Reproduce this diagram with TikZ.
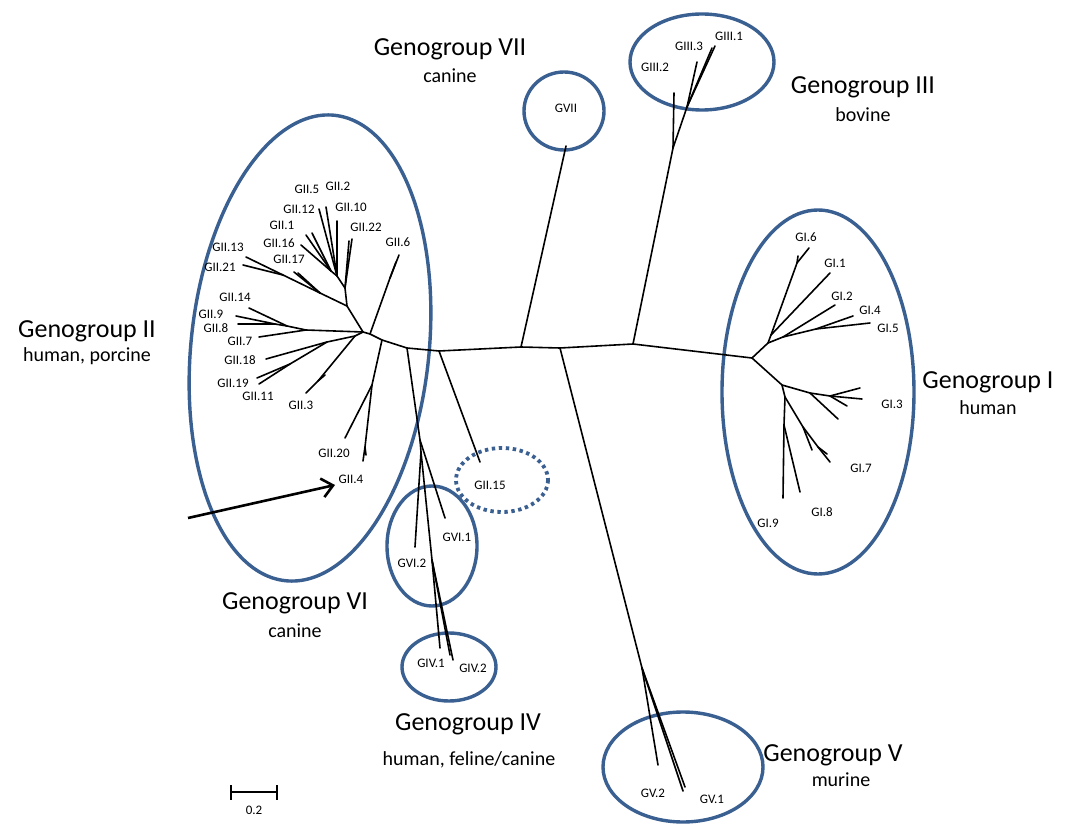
\documentclass[tikz,border=0pt]{standalone}
\usepackage{fontspec}
\setmainfont{Carlito}
\usetikzlibrary{arrows.meta}
\definecolor{gblue}{RGB}{58,95,145}
\begin{document}
\begin{tikzpicture}[x=1pt,y=-1pt,
  br/.style={line width=1.6pt, line join=round, line cap=round},
  grp/.style={draw=gblue, line width=3.4pt},
  dotgrp/.style={draw=gblue, line width=3.8pt, dash pattern=on 3.4pt off 3.6pt},
  leaf/.style={font=\fontsize{13}{15}\selectfont, inner sep=0pt},
  ttl/.style={font=\fontsize{26}{30}\selectfont, inner sep=0pt, anchor=base},
  sbt/.style={font=\fontsize{20}{24}\selectfont, inner sep=0pt, anchor=base},
  bigarrow/.style={line width=2.6pt, -{Straight Barb[length=11pt,width=19pt,line width=2.6pt]}}]
\useasboundingbox (0,0) rectangle (1069,826);
\fill[white] (0,0) rectangle (1069,826);

% ---------- group ellipses ----------
\draw[grp, rotate around={-6:(310,348)}] (310,348) ellipse [x radius=119, y radius=234];
\draw[grp] (818,392) ellipse [x radius=96, y radius=182];
\draw[grp] (702,62) ellipse [x radius=72, y radius=48];
\draw[grp] (564,111) ellipse [x radius=40, y radius=39];
\draw[grp] (432,546) ellipse [x radius=45, y radius=60];
\draw[grp] (449,667) ellipse [x radius=47, y radius=34];
\draw[grp] (683,767) ellipse [x radius=80, y radius=55];
\draw[dotgrp] (502,480) ellipse [x radius=46, y radius=32];

% ---------- backbone ----------
\coordinate (b1) at (363,332);
\coordinate (b2) at (370,334);
\coordinate (b3) at (382,340);
\coordinate (b4) at (407,348);
\coordinate (b5) at (439,351);
\coordinate (b6) at (521,347);
\coordinate (b7) at (560,348);
\coordinate (b8) at (633,344);
\coordinate (b9) at (752,358);
\draw[br] (b1) -- (b2) -- (b3) -- (b4) -- (b5) -- (b6) -- (b7) -- (b8) -- (b9);

% ---------- GVII ----------
\coordinate (t7) at (566,146);
\draw[br] (b6) -- (t7);

% ---------- GIII ----------
\coordinate (g3a) at (673,148);
\coordinate (g3b) at (687,107);
\coordinate (t32) at (674,93);
\coordinate (t33) at (697,62);
\coordinate (t31) at (715,46);
\coordinate (t31b) at (712,48);
\draw[br] (b8) -- (g3a) -- (t32);
\draw[br] (g3a) -- (g3b) -- (t33);
\draw[br] (g3b) -- (t31);
\draw[br] (g3b) -- (t31b);

% ---------- GI ----------
\coordinate (g1n1) at (768,343);
\coordinate (g1a) at (771,335);
\coordinate (g1n2) at (797,263);
\coordinate (t16a) at (809,248);
\coordinate (t16b) at (798,256);
\coordinate (t11) at (830,273);
\coordinate (g1b) at (783,337);
\coordinate (t12) at (835,305);
\coordinate (g1c) at (816,329);
\coordinate (t14) at (853,316);
\coordinate (t15) at (870,323);
\draw[br] (b9) -- (g1n1) -- (g1a) -- (g1n2) -- (t16a);
\draw[br] (g1n2) -- (t16b);
\draw[br] (g1a) -- (t11);
\draw[br] (g1n1) -- (g1b) -- (t12);
\draw[br] (g1b) -- (g1c) -- (t14);
\draw[br] (g1c) -- (t15);
\coordinate (g1d) at (782,385);
\coordinate (g1e) at (810,393);
\coordinate (g1f) at (830,396);
\coordinate (t13a) at (860,388);
\coordinate (t13b) at (862,399);
\coordinate (t13c) at (847,406);
\coordinate (t13d) at (838,419);
\draw[br] (b9) -- (g1d) -- (g1e) -- (g1f) -- (t13a);
\draw[br] (g1f) -- (t13b);
\draw[br] (g1f) -- (t13c);
\draw[br] (g1e) -- (t13d);
\coordinate (g1h) at (785,397);
\coordinate (g1i) at (784,425);
\coordinate (t19) at (783,498);
\coordinate (t18) at (800,492);
\coordinate (g1j) at (803,427);
\coordinate (t17a) at (830,462);
\coordinate (t17b) at (812,450);
\coordinate (g1k) at (818,447);
\coordinate (t17c) at (827,454);
\draw[br] (g1d) -- (g1h) -- (g1i) -- (t19);
\draw[br] (g1i) -- (t18);
\draw[br] (g1h) -- (g1j) -- (g1k) -- (t17a);
\draw[br] (g1k) -- (t17c);
\draw[br] (g1j) -- (t17b);

% ---------- GV ----------
\coordinate (g5n) at (642,668);
\coordinate (t52) at (658,765);
\coordinate (t51a) at (685,787);
\coordinate (t51b) at (683,791);
\draw[br] (b7) -- (g5n) -- (t52);
\draw[br] (g5n) -- (t51a);
\draw[br] (g5n) -- (t51b);

% ---------- GII.15 ----------
\coordinate (t215) at (480,462);
\draw[br] (b5) -- (t215);

% ---------- GVI / GIV ----------
\coordinate (g6a) at (420,440);
\coordinate (g6b) at (421,452);
\coordinate (g4a) at (432,560);
\coordinate (t61) at (445,518);
\coordinate (t62) at (415,547);
\coordinate (t41) at (440,648);
\coordinate (t42) at (453,660);
\coordinate (t42b) at (450,655);
\draw[br] (b4) -- (g6a) -- (t61);
\draw[br] (g6a) -- (g6b) -- (t62);
\draw[br] (g6b) -- (g4a) -- (t41);
\draw[br] (g4a) -- (t42);
\draw[br] (g4a) -- (t42b);

% ---------- GII ----------
\coordinate (g26n) at (390,278);
\coordinate (t26a) at (399,255);
\coordinate (t26b) at (396,262);
\draw[br] (b2) -- (g26n) -- (t26a);
\draw[br] (g26n) -- (t26b);
\coordinate (g20n) at (372,385);
\coordinate (t220) at (345,438);
\coordinate (g4n) at (365,447);
\coordinate (t24a) at (363,461);
\coordinate (t24b) at (366,455);
\draw[br] (b3) -- (g20n) -- (t220);
\draw[br] (g20n) -- (g4n) -- (t24a);
\draw[br] (g4n) -- (t24b);

\coordinate (P1) at (347,306);
\coordinate (S2) at (320,293);
\coordinate (S1) at (283,275);
\coordinate (t213) at (246,257);
\coordinate (t221) at (243,265);
\coordinate (t217) at (294,272);
\coordinate (t217b) at (298,273);
\draw[br] (b1) -- (P1) -- (S2) -- (S1) -- (t213);
\draw[br] (S1) -- (t221);
\draw[br] (S2) -- (t217);
\draw[br] (S2) -- (t217b);
\coordinate (P2) at (345,288);
\coordinate (P3) at (337,276);
\coordinate (Q) at (331,271);
\coordinate (t222a) at (352,239);
\coordinate (t222b) at (349,241);
\coordinate (t210) at (337,221);
\coordinate (t212) at (319,209);
\coordinate (t25) at (326,207);
\coordinate (t21a) at (306,235);
\coordinate (t21b) at (312,233);
\coordinate (t216) at (301,245);
\draw[br] (P1) -- (P2) -- (t222a);
\draw[br] (P2) -- (t222b);
\draw[br] (P2) -- (P3) -- (t210);
\draw[br] (P3) -- (t212);
\draw[br] (P3) -- (t25);
\draw[br] (P3) -- (Q) -- (t21a);
\draw[br] (Q) -- (t21b);
\draw[br] (Q) -- (t216);

\coordinate (T1) at (306,330);
\coordinate (T2) at (287,326);
\coordinate (T3) at (275,324);
\coordinate (t27) at (259,337);
\coordinate (t214) at (249,308);
\coordinate (t29) at (236,316);
\coordinate (t28) at (238,324);
\draw[br] (b1) -- (T1) -- (t27);
\draw[br] (T1) -- (T2) -- (t214);
\draw[br] (T2) -- (T3) -- (t29);
\draw[br] (T3) -- (t28);

\coordinate (U1) at (355,336);
\coordinate (U2) at (327,342);
\coordinate (U3) at (290,364);
\coordinate (t218) at (266,359);
\coordinate (t219) at (257,378);
\coordinate (t211) at (259,384);
\coordinate (v1) at (318,381);
\coordinate (t23) at (306,393);
\coordinate (t23b) at (325,375);
\draw[br] (b1) -- (U1) -- (U2) -- (t218);
\draw[br] (U2) -- (U3) -- (t219);
\draw[br] (U3) -- (t211);
\draw[br] (U1) -- (v1) -- (t23);
\draw[br] (v1) -- (t23b);

% ---------- leaf labels ----------
\node[leaf] (l25) at (307,189) {GII.5};
\node[leaf] (l22) at (338,186) {GII.2};
\node[leaf] (l212) at (299,209) {GII.12};
\node[leaf] (l210) at (351,207) {GII.10};
\node[leaf] (l21) at (282,225) {GII.1};
\node[leaf] (l222) at (366,227) {GII.22};
\node[leaf] (l216) at (279,243) {GII.16};
\node[leaf] (l26) at (398,242) {GII.6};
\node[leaf] (l213) at (228,247) {GII.13};
\node[leaf] (l217) at (289,259) {GII.17};
\node[leaf] (l221) at (220,267) {GII.21};
\node[leaf] (l214) at (235,297) {GII.14};
\node[leaf] (l29) at (211,314) {GII.9};
\node[leaf] (l28) at (216,328) {GII.8};
\node[leaf] (l27) at (240,341) {GII.7};
\node[leaf] (l218) at (240,360) {GII.18};
\node[leaf] (l219) at (233,383) {GII.19};
\node[leaf] (l211) at (258,396) {GII.11};
\node[leaf] (l23) at (301,405) {GII.3};
\node[leaf] (l220) at (334,453) {GII.20};
\node[leaf] (l24) at (351,479) {GII.4};
\node[leaf] (l215) at (490,485) {GII.15};
\node[leaf] (l7) at (566,108) {GVII};
\node[leaf] (l31) at (729,36) {GIII.1};
\node[leaf] (l33) at (689,46) {GIII.3};
\node[leaf] (l32) at (655,67) {GIII.2};
\node[leaf] (l16) at (806,237) {GI.6};
\node[leaf] (l11) at (835,263) {GI.1};
\node[leaf] (l12) at (842,296) {GI.2};
\node[leaf] (l14) at (870,310) {GI.4};
\node[leaf] (l15) at (888,328) {GI.5};
\node[leaf] (l13) at (892,404) {GI.3};
\node[leaf] (l17) at (861,468) {GI.7};
\node[leaf] (l18) at (822,512) {GI.8};
\node[leaf] (l19) at (768,523) {GI.9};
\node[leaf] (l61) at (457,537) {GVI.1};
\node[leaf] (l62) at (412,563) {GVI.2};
\node[leaf] (l41) at (431,663) {GIV.1};
\node[leaf] (l42) at (473,668) {GIV.2};
\node[leaf] (l52) at (653,793) {GV.2};
\node[leaf] (l51) at (712,799) {GV.1};

% ---------- group titles ----------
\node[ttl] (n7) at (450,56) {Genogroup VII};
\node[sbt] (h7) at (450,83) {canine};
\node[ttl] (n3) at (863,94) {Genogroup III};
\node[sbt] (h3) at (863,122) {bovine};
\node[ttl] (n2) at (87,338) {Genogroup II};
\node[sbt] (h2) at (87,362) {human, porcine};
\node[ttl] (n1) at (988,389) {Genogroup I};
\node[sbt] (h1) at (988,415) {human};
\node[ttl] (n6) at (295,609) {Genogroup VI};
\node[sbt] (h6) at (295,637) {canine};
\node[ttl] (n4) at (468,730) {Genogroup IV};
\node[sbt] (h4) at (469,765) {human, feline/canine};
\node[ttl] (n5) at (833,761) {Genogroup V};
\node[sbt] (h5) at (841,786) {murine};

% ---------- arrow ----------
\coordinate (arrS) at (188,518);
\coordinate (arrE) at (335,485);
\draw[bigarrow] (arrS) -- (arrE);

% ---------- scale bar ----------
\coordinate (sb1) at (231,792);
\coordinate (sb2) at (277,792);
\draw[line width=1.5pt] (sb1) -- (sb2);
\draw[line width=1.5pt] ([yshift=-7.5pt]sb1) -- ([yshift=7.5pt]sb1);
\draw[line width=1.5pt] ([yshift=-7.5pt]sb2) -- ([yshift=7.5pt]sb2);
\node[leaf] (sbl) at (254,810) {0.2};
\end{tikzpicture}
\end{document}
